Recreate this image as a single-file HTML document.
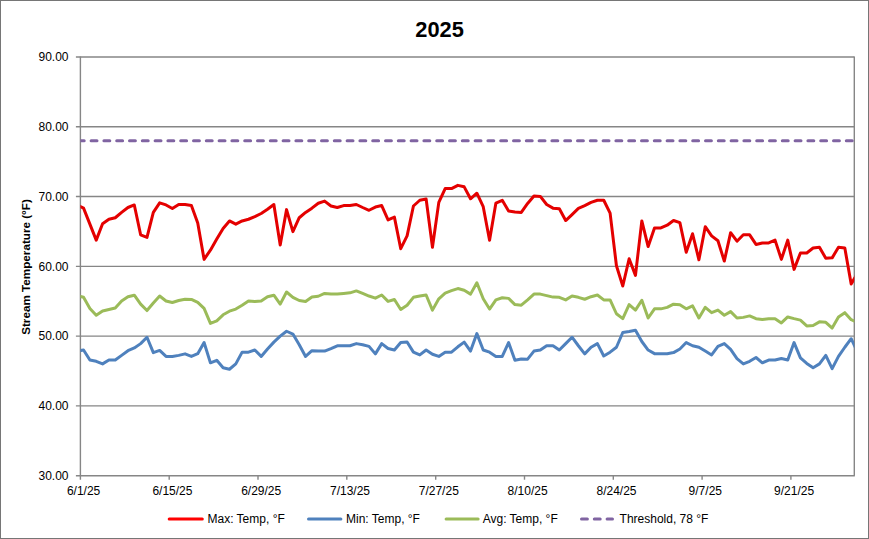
<!DOCTYPE html>
<html><head><meta charset="utf-8"><style>
html,body{margin:0;padding:0;background:#fff;}
body{width:869px;height:539px;overflow:hidden;position:relative;}
svg{position:absolute;left:0;top:0;}
.t{font-family:"Liberation Sans", sans-serif;font-size:12px;fill:#000;}
.title{font-family:"Liberation Sans", sans-serif;font-size:21.8px;font-weight:bold;fill:#000;}
.yt{font-family:"Liberation Sans", sans-serif;font-size:11.7px;font-weight:bold;fill:#000;}
</style></head><body>
<svg width="869" height="539" viewBox="0 0 869 539">
<rect x="0.5" y="0.5" width="868" height="538" fill="#fff" stroke="#767676" stroke-width="1"/>
<line x1="75.9" y1="57.0" x2="854.3" y2="57.0" stroke="#868686" stroke-width="1.4"/>
<line x1="75.9" y1="126.78" x2="854.3" y2="126.78" stroke="#868686" stroke-width="1.4"/>
<line x1="75.9" y1="196.57" x2="854.3" y2="196.57" stroke="#868686" stroke-width="1.4"/>
<line x1="75.9" y1="266.35" x2="854.3" y2="266.35" stroke="#868686" stroke-width="1.4"/>
<line x1="75.9" y1="336.13" x2="854.3" y2="336.13" stroke="#868686" stroke-width="1.4"/>
<line x1="75.9" y1="405.92" x2="854.3" y2="405.92" stroke="#868686" stroke-width="1.4"/>
<line x1="75.9" y1="475.7" x2="854.8" y2="475.7" stroke="#868686" stroke-width="1.4"/>
<line x1="80.4" y1="56.5" x2="80.4" y2="479.7" stroke="#868686" stroke-width="1.4"/>
<line x1="854.3" y1="56.5" x2="854.3" y2="475.7" stroke="#868686" stroke-width="1.4"/>
<line x1="169.2" y1="475.7" x2="169.2" y2="479.7" stroke="#868686" stroke-width="1.4"/>
<line x1="258.0" y1="475.7" x2="258.0" y2="479.7" stroke="#868686" stroke-width="1.4"/>
<line x1="346.8" y1="475.7" x2="346.8" y2="479.7" stroke="#868686" stroke-width="1.4"/>
<line x1="435.7" y1="475.7" x2="435.7" y2="479.7" stroke="#868686" stroke-width="1.4"/>
<line x1="524.5" y1="475.7" x2="524.5" y2="479.7" stroke="#868686" stroke-width="1.4"/>
<line x1="613.3" y1="475.7" x2="613.3" y2="479.7" stroke="#868686" stroke-width="1.4"/>
<line x1="702.1" y1="475.7" x2="702.1" y2="479.7" stroke="#868686" stroke-width="1.4"/>
<line x1="790.9" y1="475.7" x2="790.9" y2="479.7" stroke="#868686" stroke-width="1.4"/>
<text x="68.5" y="61.2" text-anchor="end" class="t">90.00</text>
<text x="68.5" y="131.0" text-anchor="end" class="t">80.00</text>
<text x="68.5" y="200.8" text-anchor="end" class="t">70.00</text>
<text x="68.5" y="270.6" text-anchor="end" class="t">60.00</text>
<text x="68.5" y="340.3" text-anchor="end" class="t">50.00</text>
<text x="68.5" y="410.1" text-anchor="end" class="t">40.00</text>
<text x="68.5" y="479.9" text-anchor="end" class="t">30.00</text>
<text x="83.6" y="494.8" text-anchor="middle" class="t">6/1/25</text>
<text x="172.4" y="494.8" text-anchor="middle" class="t">6/15/25</text>
<text x="261.2" y="494.8" text-anchor="middle" class="t">6/29/25</text>
<text x="350.0" y="494.8" text-anchor="middle" class="t">7/13/25</text>
<text x="438.8" y="494.8" text-anchor="middle" class="t">7/27/25</text>
<text x="527.6" y="494.8" text-anchor="middle" class="t">8/10/25</text>
<text x="616.5" y="494.8" text-anchor="middle" class="t">8/24/25</text>
<text x="705.3" y="494.8" text-anchor="middle" class="t">9/7/25</text>
<text x="794.1" y="494.8" text-anchor="middle" class="t">9/21/25</text>
<defs><clipPath id="pc"><rect x="80.4" y="57.0" width="773.9" height="418.7"/></clipPath></defs>
<g clip-path="url(#pc)" fill="none" stroke-linejoin="round" stroke-linecap="round">
<line x1="78.30" y1="140.74" x2="864.3" y2="140.74" stroke="#8064A2" stroke-width="3" stroke-dasharray="5.9 6.9" stroke-linecap="round"/>
<path d="M77.20,295.61 L83.54,297.32 L89.89,308.41 L96.23,315.24 L102.58,310.97 L108.92,309.48 L115.26,307.99 L121.61,300.94 L127.95,296.68 L134.30,295.18 L140.64,304.14 L146.98,310.55 L153.33,303.08 L159.67,296.03 L166.02,300.94 L172.36,302.44 L178.70,300.52 L185.05,299.24 L191.39,299.45 L197.74,302.44 L204.08,308.41 L210.42,323.35 L216.77,320.79 L223.11,314.81 L229.46,311.19 L235.80,309.05 L242.14,305.21 L248.49,300.94 L254.83,301.58 L261.18,300.94 L267.52,296.68 L273.86,295.18 L280.21,304.14 L286.55,291.98 L292.90,297.32 L299.24,300.52 L305.58,301.58 L311.93,297.10 L318.27,296.25 L324.62,293.47 L330.96,294.11 L337.30,294.11 L343.65,293.47 L349.99,292.83 L356.34,290.91 L362.68,293.47 L369.02,296.03 L375.37,298.17 L381.71,294.97 L388.06,301.37 L394.40,299.45 L400.74,309.48 L407.09,305.21 L413.43,297.32 L419.78,296.03 L426.12,294.97 L432.46,310.12 L438.81,298.81 L445.15,293.05 L451.50,290.70 L457.84,288.57 L464.18,290.27 L470.53,294.11 L476.87,282.80 L483.22,298.81 L489.56,309.05 L495.90,299.88 L502.25,297.74 L508.59,298.38 L514.94,304.57 L521.28,305.21 L527.62,299.88 L533.97,294.11 L540.31,294.11 L546.66,295.61 L553.00,297.10 L559.34,297.32 L565.69,299.88 L572.03,296.03 L578.38,297.32 L584.72,299.24 L591.06,296.68 L597.41,294.97 L603.75,299.88 L610.10,299.88 L616.44,313.75 L622.78,318.66 L629.13,304.57 L635.47,310.12 L641.82,300.30 L648.16,318.02 L654.50,308.84 L660.85,308.84 L667.19,307.35 L673.54,304.14 L679.88,304.78 L686.22,308.84 L692.57,305.85 L698.91,318.02 L705.26,307.35 L711.60,312.68 L717.94,310.12 L724.29,315.24 L730.63,311.61 L736.98,318.02 L743.32,317.38 L749.66,315.88 L756.01,318.66 L762.35,319.51 L768.70,318.66 L775.04,318.66 L781.38,322.92 L787.73,316.95 L794.07,318.66 L800.42,320.15 L806.76,325.91 L813.10,325.48 L819.45,321.86 L825.79,322.28 L832.14,328.05 L838.48,316.95 L844.82,312.68 L851.17,319.72 L857.51,322.28" stroke="#9BBB59" stroke-width="3"/>
<path d="M77.20,351.09 L83.54,350.03 L89.89,360.06 L96.23,361.34 L102.58,363.90 L108.92,360.06 L115.26,360.06 L121.61,355.36 L127.95,350.67 L134.30,347.89 L140.64,343.62 L146.98,337.22 L153.33,352.59 L159.67,350.45 L166.02,356.43 L172.36,356.43 L178.70,355.36 L185.05,353.87 L191.39,356.43 L197.74,353.65 L204.08,342.56 L210.42,362.83 L216.77,360.27 L223.11,367.74 L229.46,369.23 L235.80,363.90 L242.14,352.16 L248.49,352.16 L254.83,350.03 L261.18,356.43 L267.52,348.96 L273.86,342.13 L280.21,336.15 L286.55,331.25 L292.90,334.02 L299.24,344.69 L305.58,356.43 L311.93,350.67 L318.27,351.09 L324.62,351.09 L330.96,348.53 L337.30,345.76 L343.65,345.76 L349.99,345.76 L356.34,343.62 L362.68,344.69 L369.02,346.40 L375.37,353.87 L381.71,343.62 L388.06,348.53 L394.40,350.03 L400.74,342.56 L407.09,341.92 L413.43,352.16 L419.78,354.93 L426.12,350.03 L432.46,354.29 L438.81,356.43 L445.15,352.16 L451.50,352.16 L457.84,346.82 L464.18,342.13 L470.53,351.09 L476.87,333.59 L483.22,350.03 L489.56,352.16 L495.90,356.43 L502.25,356.43 L508.59,342.56 L514.94,360.27 L521.28,358.99 L527.62,359.20 L533.97,351.09 L540.31,350.03 L546.66,345.76 L553.00,345.76 L559.34,350.03 L565.69,343.62 L572.03,337.22 L578.38,345.76 L584.72,353.87 L591.06,347.25 L597.41,343.62 L603.75,356.00 L610.10,352.16 L616.44,347.25 L622.78,332.53 L629.13,331.46 L635.47,330.18 L641.82,341.49 L648.16,350.03 L654.50,353.65 L660.85,353.65 L667.19,353.65 L673.54,352.59 L679.88,348.96 L686.22,342.56 L692.57,345.76 L698.91,347.25 L705.26,351.09 L711.60,354.93 L717.94,346.40 L724.29,343.62 L730.63,349.39 L736.98,358.56 L743.32,363.90 L749.66,361.34 L756.01,357.49 L762.35,362.83 L768.70,360.06 L775.04,360.06 L781.38,358.56 L787.73,360.06 L794.07,342.56 L800.42,357.92 L806.76,363.47 L813.10,367.74 L819.45,363.90 L825.79,355.36 L832.14,368.59 L838.48,356.43 L844.82,347.25 L851.17,338.72 L857.51,351.95" stroke="#4F81BD" stroke-width="3"/>
<path d="M77.20,204.94 L83.54,208.14 L89.89,224.14 L96.23,240.15 L102.58,223.72 L108.92,219.24 L115.26,217.74 L121.61,212.41 L127.95,207.50 L134.30,204.94 L140.64,234.81 L146.98,237.38 L153.33,212.41 L159.67,202.80 L166.02,204.94 L172.36,208.57 L178.70,204.51 L185.05,204.51 L191.39,205.58 L197.74,223.08 L204.08,259.36 L210.42,250.18 L216.77,239.08 L223.11,228.41 L229.46,220.94 L235.80,224.14 L242.14,220.94 L248.49,219.24 L254.83,216.68 L261.18,213.47 L267.52,209.21 L273.86,204.51 L280.21,245.06 L286.55,209.63 L292.90,231.61 L299.24,217.74 L305.58,212.41 L311.93,208.14 L318.27,203.23 L324.62,201.10 L330.96,206.01 L337.30,207.50 L343.65,205.58 L349.99,205.58 L356.34,204.51 L362.68,207.50 L369.02,210.27 L375.37,207.07 L381.71,205.58 L388.06,219.88 L394.40,217.10 L400.74,248.69 L407.09,235.88 L413.43,206.01 L419.78,200.24 L426.12,198.96 L432.46,247.19 L438.81,202.41 L445.15,188.54 L451.50,188.54 L457.84,185.34 L464.18,186.83 L470.53,198.78 L476.87,193.23 L483.22,206.68 L489.56,240.18 L495.90,203.05 L502.25,200.27 L508.59,210.94 L514.94,212.01 L521.28,212.44 L527.62,203.47 L533.97,196.01 L540.31,196.43 L546.66,204.54 L553.00,208.17 L559.34,208.81 L565.69,220.55 L572.03,214.57 L578.38,208.38 L584.72,205.61 L591.06,202.41 L597.41,200.27 L603.75,200.27 L610.10,213.08 L616.44,265.76 L622.78,286.03 L629.13,258.72 L635.47,275.36 L641.82,220.94 L648.16,246.55 L654.50,227.99 L660.85,227.99 L667.19,225.21 L673.54,220.52 L679.88,222.65 L686.22,252.31 L692.57,233.75 L698.91,259.78 L705.26,226.71 L711.60,235.88 L717.94,240.79 L724.29,261.06 L730.63,232.68 L736.98,241.22 L743.32,234.81 L749.66,234.81 L756.01,244.42 L762.35,242.92 L768.70,242.92 L775.04,240.15 L781.38,259.36 L787.73,240.15 L794.07,269.39 L800.42,252.95 L806.76,252.95 L813.10,248.05 L819.45,247.19 L825.79,258.29 L832.14,257.86 L838.48,247.19 L844.82,248.05 L851.17,283.90 L857.51,273.23" stroke="#E40000" stroke-width="3"/>
</g>
<text transform="translate(439.6,37.3)" x="0" y="0" text-anchor="middle" class="title">2025</text>
<text transform="translate(30,267) rotate(-90)" text-anchor="middle" class="yt">Stream Temperature (°F)</text>
<line x1="169.2" y1="519" x2="202.3" y2="519" stroke="#FF0000" stroke-width="3" stroke-linecap="round"/>
<text x="207.5" y="522.5" class="t">Max: Temp, °F</text>
<line x1="308.5" y1="519" x2="340.9" y2="519" stroke="#4F81BD" stroke-width="3" stroke-linecap="round"/>
<text x="346.0" y="522.5" class="t">Min: Temp, °F</text>
<line x1="446.1" y1="519" x2="478.1" y2="519" stroke="#9BBB59" stroke-width="3" stroke-linecap="round"/>
<text x="482.7" y="522.5" class="t">Avg: Temp, °F</text>
<line x1="581.5" y1="519" x2="612.5" y2="519" stroke="#8064A2" stroke-width="3" stroke-linecap="round" stroke-dasharray="5.9 6.9"/>
<text x="619.6" y="522.5" class="t">Threshold, 78 °F</text>
</svg>
</body></html>
